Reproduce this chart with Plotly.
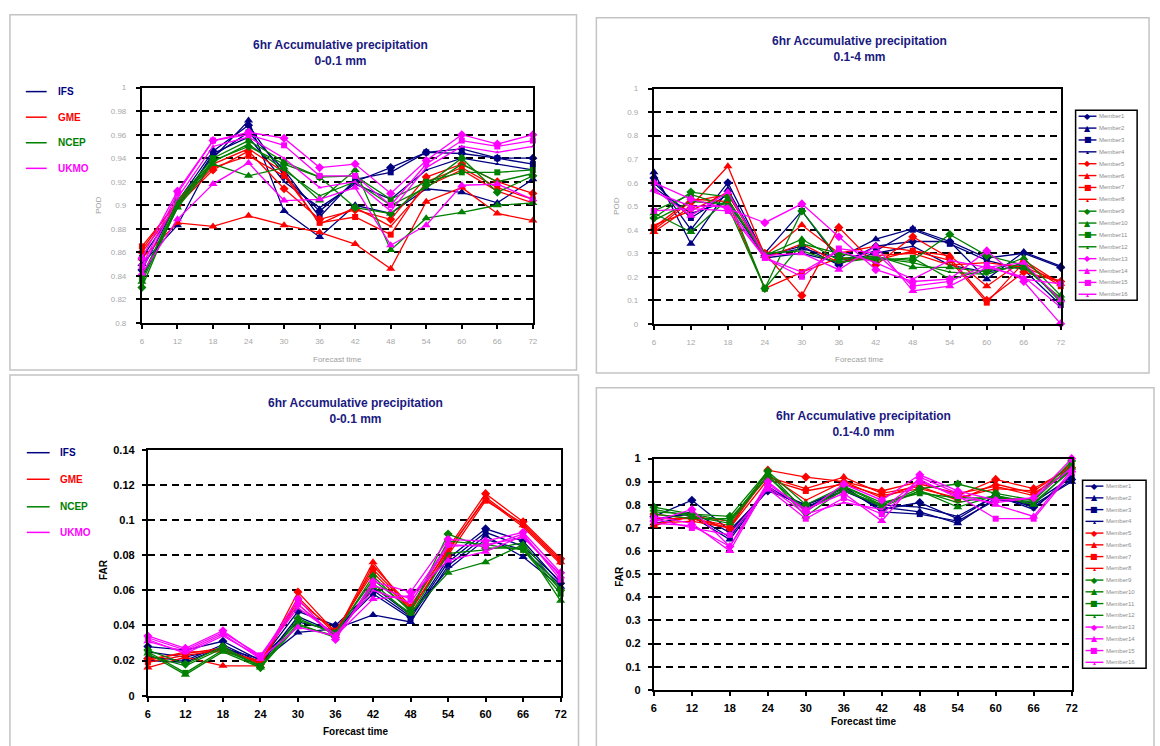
import plotly.graph_objects as go

# Forecast lead times (hours)
hours = [6, 12, 18, 24, 30, 36, 42, 48, 54, 60, 66, 72]

models = ["IFS", "GME", "NCEP", "UKMO"]
model_colors = ["#000080", "#FF0000", "#008000", "#FF00FF"]
members = [f"Member{i}" for i in range(1, 17)]

# POD, 6hr accumulated precipitation 0-0.1 mm (Member1..Member16)
pod_0_01 = [
    [0.845, 0.903, 0.946, 0.968, 0.925, 0.895, 0.920, 0.932, 0.945, 0.944, 0.940, 0.940],
    [0.850, 0.883, 0.940, 0.972, 0.895, 0.873, 0.900, 0.893, 0.914, 0.911, 0.902, 0.922],
    [0.855, 0.900, 0.942, 0.962, 0.930, 0.890, 0.922, 0.928, 0.945, 0.948, 0.940, 0.935],
    [0.838, 0.898, 0.944, 0.958, 0.920, 0.898, 0.918, 0.905, 0.930, 0.940, 0.935, 0.930],
    [0.860, 0.900, 0.930, 0.946, 0.914, 0.888, 0.896, 0.888, 0.924, 0.935, 0.920, 0.910],
    [0.855, 0.885, 0.882, 0.891, 0.883, 0.877, 0.867, 0.846, 0.903, 0.915, 0.893, 0.887],
    [0.865, 0.902, 0.932, 0.942, 0.925, 0.885, 0.890, 0.875, 0.920, 0.932, 0.915, 0.905],
    [0.862, 0.904, 0.935, 0.948, 0.928, 0.884, 0.898, 0.882, 0.916, 0.930, 0.912, 0.902],
    [0.830, 0.902, 0.938, 0.950, 0.935, 0.924, 0.898, 0.893, 0.917, 0.940, 0.911, 0.925],
    [0.835, 0.898, 0.935, 0.925, 0.932, 0.904, 0.930, 0.862, 0.889, 0.894, 0.900, 0.902],
    [0.838, 0.904, 0.940, 0.955, 0.937, 0.924, 0.925, 0.905, 0.920, 0.928, 0.928, 0.930],
    [0.840, 0.900, 0.937, 0.952, 0.930, 0.908, 0.920, 0.900, 0.915, 0.935, 0.920, 0.927],
    [0.855, 0.912, 0.955, 0.962, 0.957, 0.932, 0.935, 0.910, 0.938, 0.960, 0.952, 0.960],
    [0.842, 0.888, 0.918, 0.936, 0.904, 0.905, 0.915, 0.866, 0.883, 0.917, 0.918, 0.905],
    [0.848, 0.910, 0.955, 0.960, 0.951, 0.925, 0.925, 0.900, 0.935, 0.955, 0.950, 0.955],
    [0.845, 0.906, 0.950, 0.958, 0.940, 0.915, 0.920, 0.895, 0.932, 0.950, 0.945, 0.950],
]

# POD, 6hr accumulated precipitation 0.1-4 mm
pod_01_4 = [
    [0.62, 0.40, 0.60, 0.29, 0.33, 0.25, 0.33, 0.35, 0.35, 0.28, 0.30, 0.24],
    [0.645, 0.34, 0.57, 0.29, 0.32, 0.28, 0.36, 0.405, 0.35, 0.19, 0.305, 0.245],
    [0.60, 0.45, 0.55, 0.30, 0.48, 0.27, 0.31, 0.40, 0.34, 0.27, 0.23, 0.08],
    [0.58, 0.47, 0.52, 0.28, 0.30, 0.26, 0.30, 0.33, 0.25, 0.22, 0.25, 0.10],
    [0.40, 0.52, 0.55, 0.30, 0.12, 0.41, 0.25, 0.37, 0.28, 0.10, 0.22, 0.18],
    [0.39, 0.50, 0.67, 0.29, 0.42, 0.30, 0.33, 0.31, 0.29, 0.16, 0.27, 0.17],
    [0.41, 0.53, 0.52, 0.15, 0.22, 0.28, 0.27, 0.31, 0.27, 0.09, 0.26, 0.16],
    [0.42, 0.48, 0.56, 0.28, 0.34, 0.26, 0.29, 0.30, 0.25, 0.26, 0.24, 0.18],
    [0.45, 0.56, 0.54, 0.15, 0.48, 0.28, 0.28, 0.27, 0.38, 0.29, 0.25, 0.10],
    [0.47, 0.39, 0.53, 0.29, 0.36, 0.27, 0.29, 0.24, 0.24, 0.22, 0.28, 0.12],
    [0.48, 0.55, 0.50, 0.15, 0.34, 0.30, 0.27, 0.28, 0.19, 0.23, 0.24, 0.11],
    [0.44, 0.52, 0.51, 0.30, 0.31, 0.26, 0.28, 0.26, 0.22, 0.21, 0.26, 0.09],
    [0.60, 0.53, 0.49, 0.43, 0.51, 0.37, 0.23, 0.18, 0.19, 0.31, 0.18, 0.00],
    [0.57, 0.46, 0.56, 0.29, 0.30, 0.23, 0.33, 0.14, 0.16, 0.24, 0.26, 0.10],
    [0.48, 0.49, 0.48, 0.28, 0.20, 0.32, 0.30, 0.16, 0.18, 0.25, 0.19, 0.17],
    [0.56, 0.50, 0.50, 0.28, 0.22, 0.31, 0.26, 0.19, 0.27, 0.24, 0.20, 0.07],
]

# FAR, 6hr accumulated precipitation 0-0.1 mm
far_0_01 = [
    [0.028, 0.026, 0.031, 0.020, 0.048, 0.040, 0.060, 0.045, 0.078, 0.095, 0.088, 0.064],
    [0.022, 0.020, 0.029, 0.019, 0.036, 0.038, 0.046, 0.042, 0.074, 0.091, 0.079, 0.062],
    [0.025, 0.022, 0.027, 0.021, 0.042, 0.037, 0.058, 0.044, 0.076, 0.093, 0.085, 0.065],
    [0.020, 0.019, 0.028, 0.018, 0.045, 0.036, 0.062, 0.046, 0.072, 0.089, 0.083, 0.063],
    [0.021, 0.024, 0.027, 0.018, 0.059, 0.036, 0.072, 0.050, 0.084, 0.115, 0.099, 0.078],
    [0.016, 0.022, 0.017, 0.017, 0.056, 0.035, 0.076, 0.048, 0.082, 0.113, 0.097, 0.076],
    [0.019, 0.023, 0.026, 0.019, 0.054, 0.037, 0.070, 0.049, 0.080, 0.111, 0.098, 0.077],
    [0.020, 0.025, 0.025, 0.020, 0.052, 0.034, 0.074, 0.051, 0.083, 0.112, 0.096, 0.075],
    [0.026, 0.018, 0.028, 0.016, 0.044, 0.035, 0.068, 0.048, 0.092, 0.084, 0.084, 0.060],
    [0.024, 0.012, 0.025, 0.016, 0.040, 0.034, 0.062, 0.047, 0.070, 0.076, 0.086, 0.054],
    [0.025, 0.013, 0.026, 0.017, 0.043, 0.036, 0.066, 0.049, 0.088, 0.086, 0.083, 0.058],
    [0.023, 0.017, 0.027, 0.017, 0.041, 0.033, 0.064, 0.046, 0.081, 0.083, 0.087, 0.061],
    [0.034, 0.027, 0.037, 0.022, 0.055, 0.032, 0.065, 0.059, 0.089, 0.088, 0.093, 0.070],
    [0.031, 0.025, 0.035, 0.021, 0.039, 0.034, 0.055, 0.057, 0.077, 0.082, 0.091, 0.068],
    [0.033, 0.026, 0.036, 0.023, 0.052, 0.033, 0.063, 0.055, 0.086, 0.085, 0.092, 0.066],
    [0.032, 0.024, 0.034, 0.022, 0.050, 0.035, 0.060, 0.053, 0.085, 0.086, 0.090, 0.069],
]

# FAR, 6hr accumulated precipitation 0.1-4.0 mm
far_01_4 = [
    [0.75, 0.82, 0.69, 0.86, 0.80, 0.87, 0.78, 0.81, 0.74, 0.84, 0.79, 0.91],
    [0.72, 0.75, 0.65, 0.87, 0.79, 0.86, 0.79, 0.77, 0.72, 0.83, 0.80, 0.90],
    [0.74, 0.76, 0.66, 0.88, 0.78, 0.88, 0.77, 0.76, 0.73, 0.82, 0.81, 0.92],
    [0.73, 0.77, 0.68, 0.87, 0.80, 0.86, 0.80, 0.79, 0.75, 0.84, 0.78, 0.93],
    [0.76, 0.74, 0.70, 0.95, 0.92, 0.90, 0.86, 0.90, 0.84, 0.91, 0.87, 0.96],
    [0.71, 0.75, 0.73, 0.92, 0.87, 0.92, 0.85, 0.88, 0.82, 0.89, 0.85, 0.95],
    [0.72, 0.73, 0.70, 0.91, 0.86, 0.89, 0.84, 0.87, 0.83, 0.87, 0.86, 0.97],
    [0.74, 0.74, 0.71, 0.93, 0.82, 0.90, 0.83, 0.89, 0.85, 0.88, 0.84, 0.98],
    [0.79, 0.76, 0.75, 0.945, 0.80, 0.88, 0.80, 0.87, 0.89, 0.85, 0.82, 0.99],
    [0.78, 0.75, 0.72, 0.93, 0.75, 0.87, 0.79, 0.86, 0.79, 0.84, 0.80, 0.96],
    [0.77, 0.76, 0.73, 0.94, 0.77, 0.88, 0.81, 0.85, 0.83, 0.83, 0.82, 0.97],
    [0.76, 0.74, 0.74, 0.92, 0.78, 0.86, 0.80, 0.86, 0.81, 0.84, 0.81, 0.95],
    [0.73, 0.78, 0.62, 0.90, 0.77, 0.89, 0.82, 0.93, 0.86, 0.82, 0.83, 1.00],
    [0.75, 0.72, 0.60, 0.89, 0.78, 0.85, 0.73, 0.92, 0.85, 0.80, 0.75, 0.95],
    [0.74, 0.70, 0.67, 0.87, 0.74, 0.83, 0.76, 0.90, 0.84, 0.74, 0.74, 0.94],
    [0.72, 0.71, 0.62, 0.88, 0.76, 0.81, 0.78, 0.91, 0.83, 0.81, 0.83, 0.96],
]

# Y tick values / labels per panel
pod_0_01_ticks = [0.8, 0.82, 0.84, 0.86, 0.88, 0.9, 0.92, 0.94, 0.96, 0.98, 1.0]
pod_0_01_labels = ["0.8", "0.82", "0.84", "0.86", "0.88", "0.9", "0.92", "0.94", "0.96", "0.98", "1"]
unit_ticks = [0, 0.1, 0.2, 0.3, 0.4, 0.5, 0.6, 0.7, 0.8, 0.9, 1.0]
unit_labels = ["0", "0.1", "0.2", "0.3", "0.4", "0.5", "0.6", "0.7", "0.8", "0.9", "1"]
far_0_01_ticks = [0, 0.02, 0.04, 0.06, 0.08, 0.1, 0.12, 0.14]
far_0_01_labels = ["0", "0.02", "0.04", "0.06", "0.08", "0.1", "0.12", "0.14"]

# Excel-like marker cycle within each model group
member_symbols = ["diamond", "triangle-up", "square", "triangle-up"]
member_sizes = [7, 8, 6, 4]
legend_glyphs = ["\u25C6", "\u25B2", "\u25A0", "\u25B4"]

W, H = 1160, 746
FONT = "Liberation Sans, Arial, sans-serif"


def px(x):
    return x / W


def py(y):
    return 1 - y / H


# pixel boxes of each plot area: (left, right, top, bottom)
panels = [
    dict(data=pod_0_01, box=(140, 534, 83, 322), rng=[0.8, 1.0],
         ticks=pod_0_01_ticks, labels=pod_0_01_labels, light=True),
    dict(data=pod_01_4, box=(656, 1066, 84, 323), rng=[0, 1.0],
         ticks=unit_ticks, labels=unit_labels, light=True),
    dict(data=far_0_01, box=(146, 562, 451, 701), rng=[0, 0.14],
         ticks=far_0_01_ticks, labels=far_0_01_labels, light=False),
    dict(data=far_01_4, box=(656, 1077, 460, 695), rng=[0, 1.0],
         ticks=unit_ticks, labels=unit_labels, light=False),
]

fig = go.Figure()
layout_axes = {}

for p_i, p in enumerate(panels):
    sfx = "" if p_i == 0 else str(p_i + 1)
    xa, ya = "x" + sfx, "y" + sfx
    for m_i, series in enumerate(p["data"]):
        g = m_i // 4
        k = m_i % 4
        fig.add_trace(go.Scatter(
            x=hours, y=series, name=members[m_i], xaxis=xa, yaxis=ya,
            mode="lines+markers", cliponaxis=False, showlegend=False,
            line=dict(color=model_colors[g], width=1.3),
            marker=dict(symbol=member_symbols[k], size=member_sizes[k],
                        color=model_colors[g]),
        ))
    l, r, t, b = p["box"]
    if p["light"]:
        tickfont = dict(family=FONT, size=8, color="#a8a8a8")
        standoff = 6
    else:
        tickfont = dict(family=FONT, size=11, color="#000000", weight="bold")
        standoff = 3
    layout_axes["xaxis" + sfx] = dict(
        domain=[px(l), px(r)], anchor=ya, range=[6, 72],
        tickvals=hours, ticktext=[str(h) for h in hours],
        ticks="outside", ticklen=4, tickwidth=1.5, tickcolor="black",
        showline=True, linecolor="black", linewidth=2, mirror=True,
        showgrid=False, zeroline=False, tickfont=tickfont,
        ticklabelstandoff=standoff, fixedrange=True,
    )
    layout_axes["yaxis" + sfx] = dict(
        domain=[py(b), py(t)], anchor=xa, range=p["rng"],
        tickvals=p["ticks"], ticktext=p["labels"],
        ticks="outside", ticklen=4, tickwidth=1.5, tickcolor="black",
        showline=True, linecolor="black", linewidth=2, mirror=True,
        showgrid=True, gridcolor="black", gridwidth=1.8, griddash="7px,5px",
        zeroline=False, tickfont=tickfont, ticklabelstandoff=standoff + 2,
        fixedrange=True,
    )

shapes = []
annotations = []

# light grey frames around each chart
for (x0, y0, x1, y1) in [(7, 9, 578, 370), (598, 12, 1155, 373),
                         (7, 375, 580, 760), (598, 388, 1160, 760)]:
    shapes.append(dict(type="rect", xref="paper", yref="paper",
                       x0=px(x0), x1=px(x1), y0=py(y0), y1=py(y1),
                       line=dict(color="#c4c4c4", width=1.5), layer="below"))

# chart titles
titles = [
    ("6hr Accumulative precipitation<br>0-0.1 mm", 340, 48),
    ("6hr Accumulative precipitation<br>0.1-4 mm", 863, 44),
    ("6hr Accumulative precipitation<br>0-0.1 mm", 355, 412),
    ("6hr Accumulative precipitation<br>0.1-4.0 mm", 867, 425),
]
for text, cx, cy in titles:
    annotations.append(dict(text=text, x=px(cx), y=py(cy), xref="paper", yref="paper",
                            showarrow=False, xanchor="center", yanchor="middle",
                            font=dict(family=FONT, size=12, color="#1a1a80",
                                      weight="bold")))

# axis titles
axis_titles = [
    ("Forecast time", 337, 359, 0, 8, "#a0a0a0", "normal"),
    ("Forecast time", 863, 359, 0, 8, "#a0a0a0", "normal"),
    ("Forecast time", 355, 737, 0, 10, "#000000", "bold"),
    ("Forecast time", 867, 727, 0, 10, "#000000", "bold"),
    ("POD", 97, 202, -90, 8, "#a0a0a0", "normal"),
    ("POD", 619, 203, -90, 8, "#a0a0a0", "normal"),
    ("FAR", 102, 573, -90, 10, "#000000", "bold"),
    ("FAR", 621, 580, -90, 10, "#000000", "bold"),
]
for text, cx, cy, ang, size, color, weight in axis_titles:
    annotations.append(dict(text=text, x=px(cx), y=py(cy), xref="paper", yref="paper",
                            showarrow=False, textangle=ang, xanchor="center",
                            yanchor="middle",
                            font=dict(family=FONT, size=size, color=color, weight=weight)))

# model legends of the left-hand charts
for (lx0, lx1, tx, rows) in [(23, 44, 53, [87, 113, 139, 165]),
                             (24, 47, 55, [454, 481, 509, 535])]:
    for g, row in enumerate(rows):
        shapes.append(dict(type="line", xref="paper", yref="paper",
                           x0=px(lx0), x1=px(lx1), y0=py(row), y1=py(row),
                           line=dict(color=model_colors[g], width=1.5)))
        annotations.append(dict(text=models[g], x=px(tx), y=py(row), xref="paper",
                                yref="paper", showarrow=False, xanchor="left",
                                yanchor="middle",
                                font=dict(family=FONT, size=10, color=model_colors[g],
                                          weight="bold")))

# member legends of the right-hand charts
for (bx0, bx1, by0, by1) in [(1081, 1143, 106, 299), (1088, 1152, 482, 673)]:
    shapes.append(dict(type="rect", xref="paper", yref="paper",
                       x0=px(bx0), x1=px(bx1), y0=py(by0), y1=py(by1),
                       line=dict(color="black", width=1.5), fillcolor="white"))
    pitch = (by1 - by0) / len(members)
    for m_i, name in enumerate(members):
        g, k = m_i // 4, m_i % 4
        row = by0 + pitch * (m_i + 0.5)
        shapes.append(dict(type="line", xref="paper", yref="paper",
                           x0=px(bx0 + 3), x1=px(bx0 + 21), y0=py(row), y1=py(row),
                           line=dict(color=model_colors[g], width=1.4)))
        annotations.append(dict(text=legend_glyphs[k], x=px(bx0 + 12), y=py(row),
                                xref="paper", yref="paper", showarrow=False,
                                xanchor="center", yanchor="middle",
                                font=dict(family="DejaVu Sans", size=8 if k < 3 else 6,
                                          color=model_colors[g])))
        annotations.append(dict(text=name, x=px(bx0 + 22), y=py(row), xref="paper",
                                yref="paper", showarrow=False, xanchor="left",
                                yanchor="middle",
                                font=dict(family=FONT, size=6, color="#8c8c8c")))

fig.update_layout(
    width=W, height=H, margin=dict(l=0, r=0, t=0, b=0),
    paper_bgcolor="white", plot_bgcolor="white",
    showlegend=False, shapes=shapes, annotations=annotations,
    **layout_axes,
)

fig.write_html("out.html", config={"displayModeBar": False})
